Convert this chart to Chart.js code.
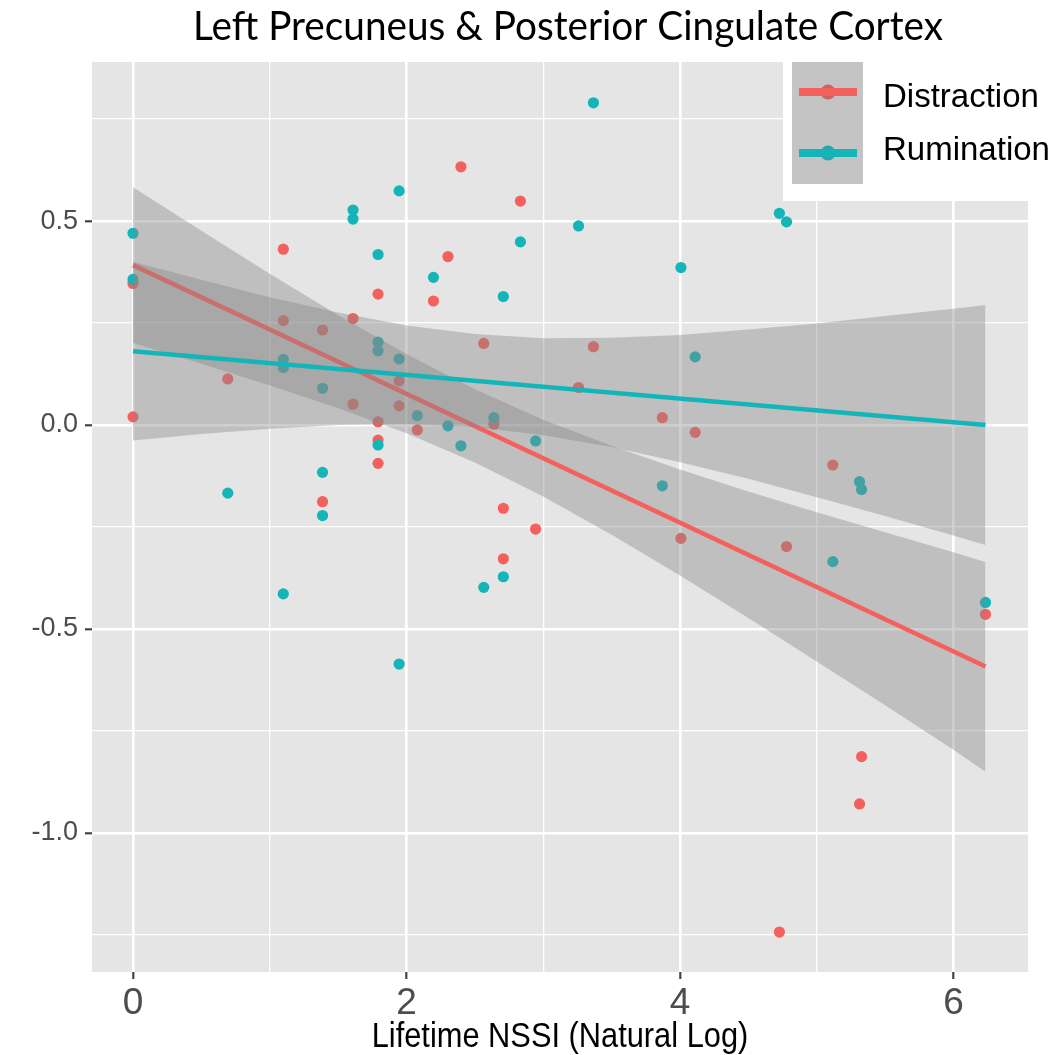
<!DOCTYPE html>
<html>
<head>
<meta charset="utf-8">
<script src="https://cdn.jsdelivr.net/npm/chart.js@4.4.1/dist/chart.umd.min.js"></script>
<style>
  html, body { margin: 0; padding: 0; background: #ffffff; }
  canvas { display: block; }
</style>
</head>
<body>
<canvas id="chart" width="1061" height="1055"></canvas>
<script>
// ---- text ----
const chartTitle = 'Left Precuneus & Posterior Cingulate Cortex';
const xAxisTitle = 'Lifetime NSSI (Natural Log)';
const seriesNames = ['Distraction', 'Rumination'];

// ---- axis ticks (minor ticks only carry grid lines) ----
const xTicks = [0, 1, 2, 3, 4, 5, 6];
const xMajorTicks = [0, 2, 4, 6];
const yTicks = [-1.25, -1, -0.75, -0.5, -0.25, 0, 0.25, 0.5, 0.75];
const yMajorTicks = [-1, -0.5, 0, 0.5];

// ---- observations: ln(lifetime NSSI) vs. activation ----
const distractionX = [0, 0, 0.693, 1.099, 1.099, 1.386, 1.386, 1.609, 1.609, 1.792, 1.792, 1.792, 1.792,
  1.946, 1.946, 2.079, 2.197, 2.303, 2.398, 2.565, 2.639, 2.708, 2.708, 2.833, 2.944, 3.258, 3.367,
  3.871, 4.007, 4.111, 4.727, 4.779, 5.118, 5.313, 5.328, 6.234];
const distractionY = [0.347, 0.020, 0.113, 0.431, 0.256, 0.233, -0.188, 0.261, 0.051, 0.321, 0.008, -0.037, -0.094,
  0.108, 0.047, -0.012, 0.304, 0.413, 0.633, 0.200, 0.002, -0.204, -0.328, 0.549, -0.255, 0.092, 0.192,
  0.018, -0.278, -0.018, -1.243, -0.298, -0.098, -0.929, -0.813, -0.464];

const ruminationX = [0, 0, 0.693, 1.099, 1.099, 1.099, 1.386, 1.386, 1.386, 1.609, 1.609, 1.792, 1.792, 1.792, 1.792,
  1.946, 1.946, 1.946, 2.079, 2.197, 2.303, 2.398, 2.565, 2.639, 2.708, 2.708, 2.833, 2.944, 3.258, 3.367,
  3.871, 4.007, 4.111, 4.727, 4.779, 5.118, 5.313, 5.328, 6.234];
const ruminationY = [0.470, 0.357, -0.167, 0.161, 0.141, -0.414, 0.090, -0.116, -0.222, 0.527, 0.505, 0.418, 0.203, 0.182, -0.049,
  0.574, 0.162, -0.586, 0.023, 0.362, -0.002, -0.051, -0.398, 0.018, 0.315, -0.372, 0.449, -0.039, 0.488, 0.790,
  -0.149, 0.386, 0.167, 0.519, 0.498, -0.335, -0.139, -0.158, -0.435];

// ---- linear fits ----
const fitX = [0, 6.234];
const distractionFitY = [0.392, -0.592];
const ruminationFitY = [0.181, 0.000];

// ---- 95% confidence bands of the fits ----
const bandX = [0, 0.5, 1, 1.5, 2, 2.5, 3, 3.5, 4, 4.5, 5, 5.5, 6, 6.234];
const distractionUpper = [0.583, 0.476, 0.371, 0.269, 0.174, 0.088, 0.013, -0.051, -0.109, -0.163, -0.214, -0.263, -0.312, -0.336];
const distractionLower = [0.201, 0.150, 0.097, 0.041, -0.020, -0.092, -0.175, -0.269, -0.369, -0.473, -0.580, -0.687, -0.796, -0.850];
const ruminationUpper = [0.400, 0.356, 0.313, 0.276, 0.244, 0.223, 0.213, 0.214, 0.221, 0.234, 0.249, 0.267, 0.285, 0.294];
const ruminationLower = [-0.038, -0.022, -0.009, 0.000, 0.002, -0.005, -0.025, -0.054, -0.091, -0.132, -0.177, -0.223, -0.271, -0.294];

// ---- styling ----
const RED = '#F4615C';
const TEAL = '#13B5B9';
const RED_KEY = '#D0625E';
const TEAL_KEY = '#2AA6A9';
const BAND = 'rgba(135,135,135,0.40)';
const PANEL = '#E5E5E5';
const TICK_TEXT = '#4D4D4D';

const pts = (xs, ys) => xs.map((x, i) => ({ x: x, y: ys[i] }));

// panel background
const panelPlugin = {
  id: 'panel',
  beforeDraw(chart) {
    const { ctx, chartArea: a } = chart;
    ctx.save();
    ctx.fillStyle = '#ffffff';
    ctx.fillRect(0, 0, chart.width, chart.height);
    ctx.fillStyle = PANEL;
    ctx.fillRect(a.left, a.top, a.right - a.left, a.bottom - a.top);
    ctx.restore();
  }
};

// title, x-axis title and the legend
const annotationsPlugin = {
  id: 'annotations',
  afterDraw(chart) {
    const { ctx, chartArea: a } = chart;
    ctx.save();

    // main title (condensed humanist face)
    ctx.font = '40px Lato';
    ctx.fillStyle = '#000000';
    ctx.textAlign = 'center';
    ctx.textBaseline = 'alphabetic';
    const tw = ctx.measureText(chartTitle).width;
    ctx.save();
    ctx.translate(568, 40);
    ctx.scale(750 / tw, 1);
    ctx.fillText(chartTitle, 0, 0);
    ctx.restore();

    // x-axis title
    ctx.font = '35px "Liberation Sans", Arial, sans-serif';
    ctx.save();
    ctx.translate((a.left + a.right) / 2, 1047);
    ctx.scale(0.88, 1);
    ctx.fillText(xAxisTitle, 0, 0);
    ctx.restore();

    // legend
    ctx.fillStyle = '#ffffff';
    ctx.fillRect(783, 48, 278, 153);
    ctx.fillStyle = '#C4C4C4';
    ctx.fillRect(792, 62, 71, 122);
    const keys = [
      { name: seriesNames[0], line: RED, dot: RED_KEY, y: 92, base: 107 },
      { name: seriesNames[1], line: TEAL, dot: TEAL_KEY, y: 153, base: 160 }
    ];
    keys.forEach(k => {
      ctx.beginPath();
      ctx.arc(828, k.y, 7.5, 0, Math.PI * 2);
      ctx.fillStyle = k.dot;
      ctx.fill();
      ctx.beginPath();
      ctx.moveTo(799, k.y);
      ctx.lineTo(857, k.y);
      ctx.lineWidth = 8;
      ctx.strokeStyle = k.line;
      ctx.stroke();
      ctx.font = '33px "Liberation Sans", Arial, sans-serif';
      ctx.fillStyle = '#000000';
      ctx.textAlign = 'left';
      ctx.fillText(k.name, 883, k.base);
    });
    ctx.restore();
  }
};

const isMajor = (list, v) => list.some(m => Math.abs(m - v) < 1e-9);

new Chart(document.getElementById('chart'), {
  type: 'scatter',
  data: {
    datasets: [
      { label: seriesNames[0], type: 'scatter', data: pts(distractionX, distractionY),
        backgroundColor: RED, borderWidth: 0, pointRadius: 5.6, order: 6 },
      { label: seriesNames[1], type: 'scatter', data: pts(ruminationX, ruminationY),
        backgroundColor: TEAL, borderWidth: 0, pointRadius: 5.6, order: 5 },
      // index 2: upper bound of Distraction band
      { type: 'line', data: pts(bandX, distractionUpper), showLine: true, borderWidth: 0,
        borderColor: 'rgba(0,0,0,0)', pointRadius: 0, fill: false, order: 4 },
      { type: 'line', data: pts(bandX, distractionLower), showLine: true, borderWidth: 0,
        borderColor: 'rgba(0,0,0,0)', pointRadius: 0, fill: { target: 2 }, backgroundColor: BAND, order: 4 },
      { type: 'line', data: pts(fitX, distractionFitY), showLine: true, borderColor: RED,
        borderWidth: 4.5, pointRadius: 0, fill: false, order: 3 },
      // index 5: upper bound of Rumination band
      { type: 'line', data: pts(bandX, ruminationUpper), showLine: true, borderWidth: 0,
        borderColor: 'rgba(0,0,0,0)', pointRadius: 0, fill: false, order: 2 },
      { type: 'line', data: pts(bandX, ruminationLower), showLine: true, borderWidth: 0,
        borderColor: 'rgba(0,0,0,0)', pointRadius: 0, fill: { target: 5 }, backgroundColor: BAND, order: 2 },
      { type: 'line', data: pts(fitX, ruminationFitY), showLine: true, borderColor: TEAL,
        borderWidth: 4.5, pointRadius: 0, fill: false, order: 1 }
    ]
  },
  options: {
    responsive: false,
    animation: false,
    devicePixelRatio: 1,
    layout: { padding: { left: 0, right: 33, top: 62, bottom: 0 } },
    plugins: {
      legend: { display: false },
      title: { display: false },
      tooltip: { enabled: false }
    },
    scales: {
      x: {
        type: 'linear',
        min: -0.30,
        max: 6.545,
        afterBuildTicks: s => { s.ticks = xTicks.map(v => ({ value: v })); },
        afterFit: s => { s.height = 83; },
        border: { display: false },
        grid: {
          color: '#ffffff',
          lineWidth: c => (c.tick && isMajor(xMajorTicks, c.tick.value)) ? 2.6 : 1.3,
          drawTicks: true,
          tickLength: 7,
          tickWidth: 2.2,
          tickColor: c => (c.tick && isMajor(xMajorTicks, c.tick.value)) ? '#444444' : 'rgba(0,0,0,0)'
        },
        ticks: {
          autoSkip: false,
          maxRotation: 0,
          padding: 3,
          color: TICK_TEXT,
          font: { family: '"Liberation Sans", Arial, sans-serif', size: 37 },
          callback: v => isMajor(xMajorTicks, v) ? String(v) : ''
        }
      },
      y: {
        type: 'linear',
        min: -1.341,
        max: 0.890,
        afterBuildTicks: s => { s.ticks = yTicks.map(v => ({ value: v })); },
        afterFit: s => { s.width = 92; },
        border: { display: false },
        grid: {
          color: '#ffffff',
          lineWidth: c => (c.tick && isMajor(yMajorTicks, c.tick.value)) ? 2.6 : 1.3,
          drawTicks: true,
          tickLength: 7,
          tickWidth: 2.2,
          tickColor: c => (c.tick && isMajor(yMajorTicks, c.tick.value)) ? '#444444' : 'rgba(0,0,0,0)'
        },
        ticks: {
          autoSkip: false,
          padding: 7,
          color: TICK_TEXT,
          font: { family: '"Liberation Sans", Arial, sans-serif', size: 27 },
          callback: v => isMajor(yMajorTicks, v) ? v.toFixed(1) : ''
        }
      }
    }
  },
  plugins: [panelPlugin, annotationsPlugin]
});
</script>
</body>
</html>
